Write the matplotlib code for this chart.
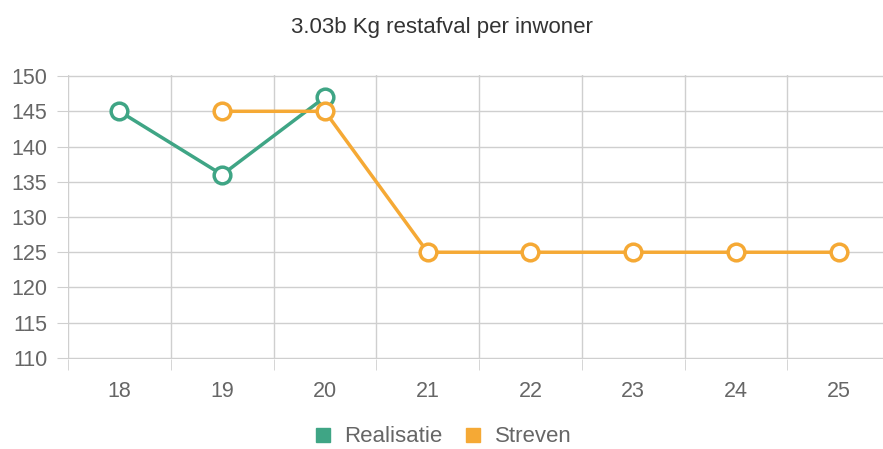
import matplotlib.pyplot as plt
from matplotlib.lines import Line2D
import numpy as np

plt.rcParams['font.family'] = ['Liberation Sans', 'DejaVu Sans']

years = ['18', '19', '20', '21', '22', '23', '24', '25']
realisatie = [145, 136, 147, None, None, None, None, None]
streven = [None, 145, 145, 125, 125, 125, 125, 125]

green = '#3fa585'
orange = '#f5a935'
grid_col = '#cfcfcf'
txt_col = '#666666'

fig = plt.figure(figsize=(8.83, 4.49), dpi=100)
ax = fig.add_axes([68 / 883, 90 / 449, 822 / 883, 284 / 449])

x = np.arange(len(years))
r = np.array([np.nan if v is None else v for v in realisatie], dtype=float)
s = np.array([np.nan if v is None else v for v in streven], dtype=float)

ax.plot(x, r, color=green, lw=2.5, marker='o', markersize=12,
        markerfacecolor='white', markeredgewidth=2.5, zorder=3, clip_on=False)
ax.plot(x, s, color=orange, lw=2.5, marker='o', markersize=12,
        markerfacecolor='white', markeredgewidth=2.5, zorder=3, clip_on=False)

ax.set_xlim(-0.5, len(years) - 0.5)
ax.set_ylim(109.85, 150.15)
ax.set_xticks(x)
ax.set_xticklabels(years)
ax.set_xticks(np.arange(len(years) + 1) - 0.5, minor=True)
ax.set_yticks(np.arange(110, 151, 5))

ax.tick_params(axis='x', which='major', length=0, pad=16, labelsize=15.5, labelcolor=txt_col)
ax.tick_params(axis='x', which='minor', length=8, color=grid_col)
ax.tick_params(axis='y', length=8, color=grid_col, pad=7, labelsize=15.5, labelcolor=txt_col)

ax.grid(axis='x', which='minor', color=grid_col, lw=1)
ax.grid(axis='y', which='major', color=grid_col, lw=1)
for sp in ax.spines.values():
    sp.set_visible(False)
ax.set_axisbelow(True)

fig.text(0.5, 1 - 27 / 449, '3.03b Kg restafval per inwoner', ha='center', va='center',
         fontsize=16, color='#333333')

handles = [Line2D([], [], ls='', marker='s', markersize=10.5, color=green),
           Line2D([], [], ls='', marker='s', markersize=10.5, color=orange)]
leg = fig.legend(handles, ['Realisatie', 'Streven'], loc='center', ncol=2,
                 bbox_to_anchor=(0.5, 1 - 437 / 449), frameon=False, fontsize=16,
                 handletextpad=0.45, columnspacing=0.9, handlelength=1.0)
for t in leg.get_texts():
    t.set_color(txt_col)

fig.savefig('out.png', dpi=100)
